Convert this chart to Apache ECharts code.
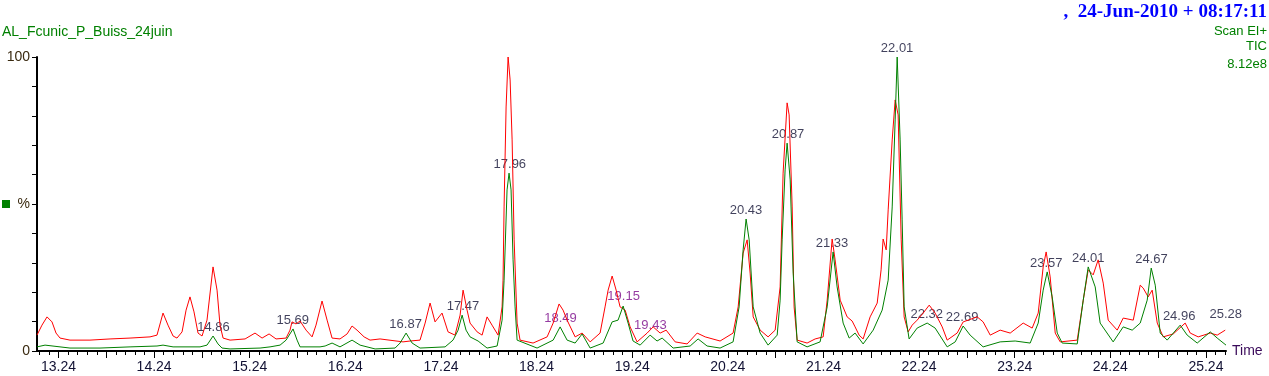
<!DOCTYPE html>
<html>
<head>
<meta charset="utf-8">
<script src="https://cdn.jsdelivr.net/npm/echarts@6/dist/echarts.min.js"></script>
<style>
  html, body { margin: 0; padding: 0; background: #fff; }
  #chart { width: 1269px; height: 376px; }
</style>
</head>
<body>
<div id="chart"></div>
<script>
// red trace: [retention time (min), % of base peak]
const redTrace = [[13.015,5.4],[13.067,8.8],[13.120,11.6],[13.172,9.9],[13.214,6.1],[13.256,4.4],[13.360,3.7],[13.569,3.7],[13.779,4.1],[13.988,4.4],[14.197,4.8],[14.270,5.4],[14.333,12.9],[14.385,8.8],[14.438,5.1],[14.479,4.4],[14.532,6.5],[14.574,13.9],[14.615,18.4],[14.657,13.3],[14.699,6.1],[14.741,5.1],[14.793,10.5],[14.856,28.6],[14.898,20.7],[14.929,8.8],[14.961,4.4],[15.034,3.7],[15.191,4.1],[15.295,6.1],[15.369,4.4],[15.442,5.8],[15.515,4.1],[15.620,4.4],[15.661,7.1],[15.682,9.9],[15.724,9.2],[15.766,10.2],[15.829,7.1],[15.892,4.8],[15.933,8.8],[15.996,17.0],[16.049,10.5],[16.101,4.4],[16.184,4.1],[16.258,5.8],[16.310,8.5],[16.362,7.1],[16.436,4.8],[16.498,3.7],[16.603,4.1],[16.843,3.1],[16.917,3.4],[17.021,3.7],[17.074,9.5],[17.126,16.3],[17.178,9.9],[17.251,12.9],[17.314,6.5],[17.387,5.4],[17.440,12.2],[17.471,20.7],[17.513,13.9],[17.544,9.5],[17.618,6.5],[17.670,5.4],[17.722,11.6],[17.774,8.8],[17.837,5.4],[17.879,15.0],[17.889,24.1],[17.900,49.0],[17.921,83.0],[17.942,100],[17.963,92.2],[17.984,71.8],[18.005,37.8],[18.036,9.5],[18.067,3.7],[18.203,2.7],[18.350,4.8],[18.413,9.5],[18.475,16.0],[18.517,13.9],[18.559,10.5],[18.643,4.8],[18.716,6.1],[18.800,3.1],[18.904,6.1],[18.956,15.0],[18.988,20.7],[19.030,25.5],[19.072,20.7],[19.113,15.0],[19.166,13.9],[19.218,8.2],[19.291,3.1],[19.396,6.1],[19.459,8.2],[19.532,6.1],[19.595,7.1],[19.689,3.1],[19.814,2.4],[19.919,6.1],[20.003,4.8],[20.159,3.4],[20.295,6.1],[20.348,15.0],[20.400,33.3],[20.442,37.8],[20.473,26.5],[20.505,11.6],[20.578,7.1],[20.661,4.8],[20.735,7.1],[20.787,21.8],[20.818,60.5],[20.860,84.4],[20.881,80.3],[20.913,49.0],[20.933,15.0],[20.965,3.7],[21.069,2.7],[21.153,4.1],[21.237,4.8],[21.279,17.3],[21.331,38.1],[21.362,31.0],[21.415,17.3],[21.488,11.6],[21.540,10.2],[21.571,8.2],[21.613,5.4],[21.655,4.1],[21.728,11.6],[21.802,16.3],[21.843,27.6],[21.864,38.1],[21.896,34.4],[21.917,48.0],[21.959,71.8],[21.990,85.4],[22.021,80.3],[22.053,37.8],[22.084,11.6],[22.126,6.5],[22.168,8.8],[22.220,10.5],[22.283,12.9],[22.346,15.6],[22.408,12.9],[22.482,8.2],[22.534,3.7],[22.638,6.1],[22.701,9.9],[22.848,11.6],[22.910,9.9],[22.984,5.4],[23.088,7.1],[23.193,6.1],[23.329,9.5],[23.423,7.8],[23.486,12.9],[23.538,28.6],[23.569,33.7],[23.611,25.2],[23.664,6.1],[23.716,3.1],[23.894,3.7],[23.957,17.3],[24.009,27.6],[24.061,25.9],[24.113,31.0],[24.166,23.1],[24.218,10.5],[24.312,7.1],[24.375,11.2],[24.480,10.5],[24.553,22.4],[24.584,21.4],[24.636,18.4],[24.678,20.7],[24.731,9.5],[24.793,4.8],[24.898,5.8],[25.023,9.5],[25.076,6.1],[25.159,4.8],[25.285,6.1],[25.358,5.4],[25.442,7.1]]

// green trace
const greenTrace = [[13.015,1.4],[13.099,2.0],[13.360,1.0],[13.674,1.0],[13.988,1.4],[14.270,1.7],[14.333,2.0],[14.438,1.4],[14.720,1.4],[14.793,2.0],[14.856,5.1],[14.908,2.4],[14.950,1.0],[15.034,0.7],[15.348,1.0],[15.452,1.4],[15.557,2.0],[15.620,3.7],[15.693,7.5],[15.735,3.7],[15.766,1.4],[15.975,1.4],[16.028,1.7],[16.101,2.7],[16.184,1.4],[16.310,3.7],[16.394,2.0],[16.551,0.7],[16.760,1.0],[16.812,2.7],[16.875,6.1],[16.938,2.7],[17.021,1.0],[17.283,1.4],[17.366,3.7],[17.419,7.1],[17.461,12.2],[17.502,7.1],[17.544,4.8],[17.628,3.4],[17.722,1.0],[17.827,1.7],[17.879,10.5],[17.900,24.1],[17.931,54.8],[17.952,60.5],[17.973,54.8],[17.994,31.0],[18.015,15.0],[18.036,3.7],[18.245,1.0],[18.413,3.7],[18.486,8.2],[18.559,3.7],[18.643,2.7],[18.716,5.8],[18.800,1.0],[18.936,2.7],[19.030,9.9],[19.092,10.5],[19.145,15.3],[19.197,9.5],[19.249,3.4],[19.323,2.0],[19.427,5.4],[19.500,3.4],[19.553,4.4],[19.668,1.0],[19.846,1.7],[19.929,4.1],[20.023,1.7],[20.159,1.0],[20.295,3.1],[20.358,15.0],[20.400,34.4],[20.431,44.9],[20.463,37.8],[20.505,15.0],[20.578,6.1],[20.661,2.0],[20.756,5.4],[20.787,17.3],[20.808,37.8],[20.839,61.6],[20.860,70.7],[20.892,58.2],[20.923,26.5],[20.965,3.1],[21.069,1.4],[21.205,3.1],[21.279,15.0],[21.341,33.7],[21.383,21.8],[21.446,9.5],[21.509,4.4],[21.571,6.1],[21.655,2.4],[21.760,7.1],[21.854,13.9],[21.917,24.1],[21.959,49.0],[21.990,78.6],[22.011,100],[22.042,71.8],[22.063,44.6],[22.084,15.0],[22.136,4.1],[22.220,7.8],[22.325,9.5],[22.408,7.8],[22.534,1.4],[22.618,3.1],[22.701,8.5],[22.774,5.4],[22.910,1.4],[23.088,3.1],[23.245,3.4],[23.402,2.7],[23.486,9.5],[23.538,20.7],[23.580,26.9],[23.632,18.4],[23.685,6.1],[23.737,2.7],[23.894,2.4],[23.957,17.3],[24.009,28.6],[24.082,21.8],[24.134,9.5],[24.270,3.1],[24.375,8.2],[24.469,7.1],[24.553,9.5],[24.626,17.3],[24.668,28.2],[24.710,22.4],[24.762,6.1],[24.835,3.7],[24.971,8.8],[25.044,5.4],[25.149,2.7],[25.285,6.5],[25.358,4.4],[25.450,2.0]]

// labelled peaks (apex time and height)
const peakTimes = [14.86, 15.69, 16.87, 17.47, 17.96, 18.49, 19.15, 19.43, 20.43, 20.87, 21.33, 22.01, 22.32, 22.69, 23.57, 24.01, 24.67, 24.96, 25.28]
const peakHeights = [5.1, 7.5, 6.1, 12.2, 60.5, 8.2, 15.6, 5.8, 44.9, 70.7, 33.7, 100, 9.5, 8.5, 26.9, 28.6, 28.2, 8.8, 6.5]

// axis tick labels
const xTickLabels = [13.24, 14.24, 15.24, 16.24, 17.24, 18.24, 19.24, 20.24, 21.24, 22.24, 23.24, 24.24, 25.24]
const yTickLabels = [0, 50, 100]

const X_MIN = 13.015
const X_MAX = 25.45
const FONT = '"Liberation Sans", Arial, sans-serif'
const purplePeaks = [18.49, 19.15, 19.43]

// minor ticks every 0.1 min, long ticks every 0.5 min
const smallTicks = []
for (let i = 0; 13.04 + i * 0.1 <= X_MAX; i++) smallTicks.push(+(13.04 + i * 0.1).toFixed(2))
const longTicks = []
for (let i = 0; 13.24 + i * 0.5 <= X_MAX; i++) longTicks.push(+(13.24 + i * 0.5).toFixed(2))
const yTicks = []
for (let v = 0; v <= 100; v += 10) yTicks.push(v)

const peakData = peakTimes.map((t, i) => {
  const item = { value: [t, peakHeights[i]] }
  if (purplePeaks.includes(t)) item.label = { color: '#7a0a8a' }
  return item
})

const chart = echarts.init(document.getElementById('chart'))

const option = {
  animation: false,
  backgroundColor: '#fff',
  grid: { left: 37, right: 43, top: 57, bottom: 25 },
  graphic: [
    { type: 'text', left: 2, top: 25, style: { text: 'AL_Fcunic_P_Buiss_24juin', fill: '#008000', font: '14px ' + FONT } },
    { type: 'text', right: 2, top: 3, style: { text: ',  24-Jun-2010 + 08:17:11', fill: '#0000ff', font: 'bold 19px "Liberation Serif", "Times New Roman", serif' } },
    { type: 'text', right: 2, top: 25, style: { text: 'Scan EI+', fill: '#008000', font: '13px ' + FONT } },
    { type: 'text', right: 2, top: 40, style: { text: 'TIC', fill: '#008000', font: '13px ' + FONT } },
    { type: 'text', right: 2, top: 58, style: { text: '8.12e8', fill: '#008000', font: '13px ' + FONT } },
    { type: 'rect', left: 2, top: 200, shape: { width: 8, height: 8 }, style: { fill: '#008000' } }
  ],
  xAxis: [
    {
      type: 'value',
      min: X_MIN,
      max: X_MAX,
      position: 'bottom',
      name: 'Time',
      nameLocation: 'end',
      nameGap: 6,
      nameTextStyle: { color: '#3a0a5a', fontSize: 14, fontFamily: FONT },
      axisLine: { show: true, onZero: false, lineStyle: { color: '#000', width: 2 } },
      axisTick: { show: true, length: 4, customValues: smallTicks, lineStyle: { color: '#000', width: 1 } },
      axisLabel: {
        customValues: xTickLabels,
        formatter: v => v.toFixed(2),
        margin: 9,
        color: '#111133',
        fontSize: 14,
        fontFamily: FONT
      },
      splitLine: { show: false }
    },
    {
      type: 'value',
      min: X_MIN,
      max: X_MAX,
      position: 'bottom',
      axisLine: { show: false },
      axisTick: { show: true, length: 7, customValues: longTicks, lineStyle: { color: '#000', width: 1 } },
      axisLabel: { show: false },
      splitLine: { show: false }
    }
  ],
  yAxis: {
    type: 'value',
    min: 0,
    max: 100,
    axisLine: { show: true, lineStyle: { color: '#000', width: 2 } },
    axisTick: { show: true, length: 5, customValues: yTicks, lineStyle: { color: '#000', width: 1 } },
    axisLabel: {
      customValues: yTickLabels,
      formatter: v => (v === 50 ? '%' : String(v)),
      margin: 7,
      color: '#3a2a10',
      fontSize: 14,
      fontFamily: FONT
    },
    splitLine: { show: false }
  },
  series: [
    {
      name: 'peaks',
      type: 'scatter',
      z: 1,
      symbolSize: 0,
      data: peakData,
      label: {
        show: true,
        position: 'top',
        distance: 2,
        formatter: p => p.value[0].toFixed(2),
        color: '#111133',
        fontSize: 13,
        fontFamily: FONT
      },
      labelLayout: p => (p.dataIndex === peakTimes.length - 1 ? { dx: 16, dy: -9 } : {})
    },
    {
      name: 'red',
      type: 'line',
      z: 3,
      data: redTrace,
      symbol: 'none',
      lineStyle: { color: '#ff0000', width: 1 }
    },
    {
      name: 'green',
      type: 'line',
      z: 4,
      data: greenTrace,
      symbol: 'none',
      lineStyle: { color: '#008000', width: 1 }
    }
  ]
}

chart.setOption(option)
</script>
</body>
</html>
